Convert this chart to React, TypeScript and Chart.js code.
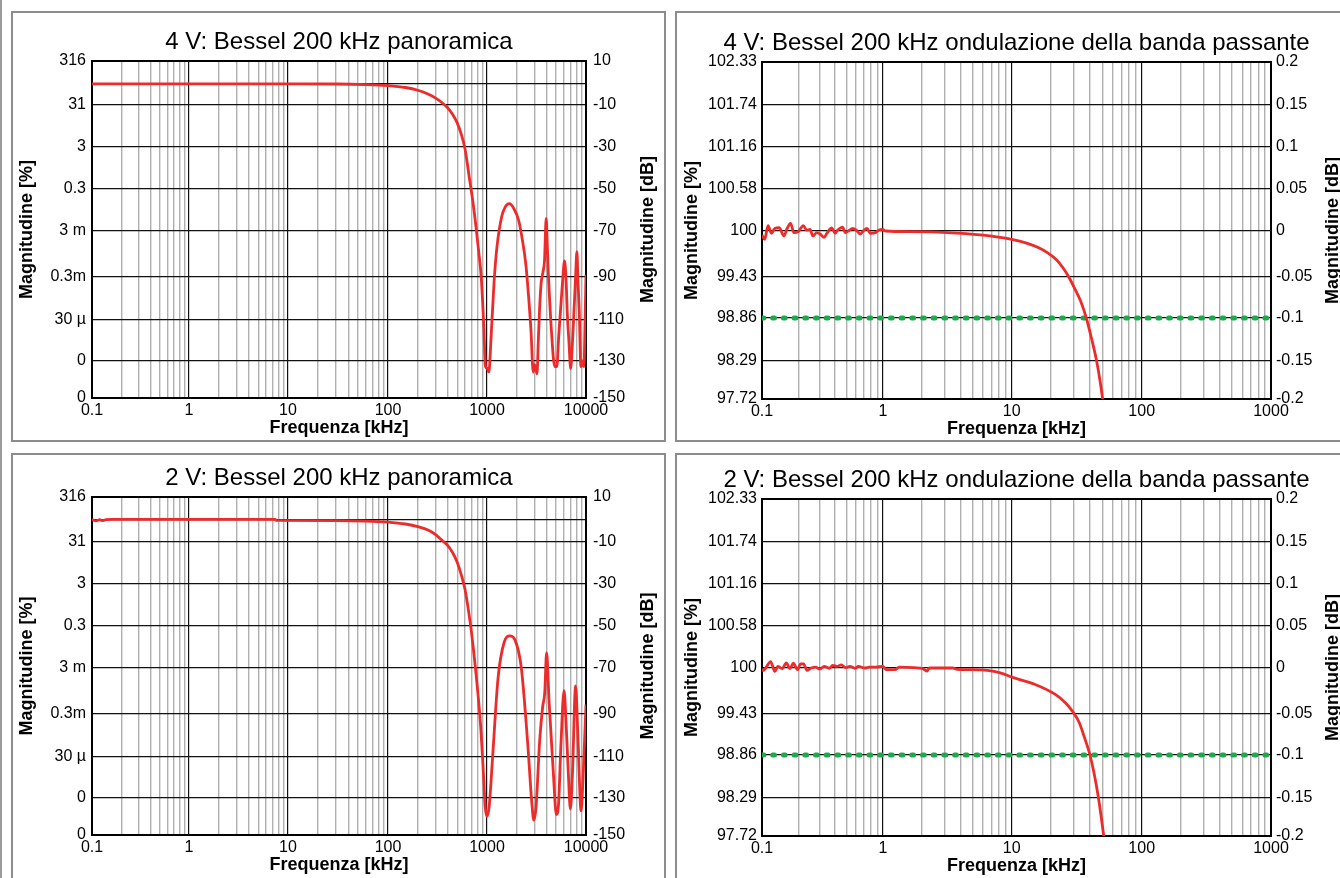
import React, { useEffect, useRef } from "react";
import { Chart, registerables } from "chart.js";

Chart.register(...registerables);

const FONT_FAMILY = '"Liberation Sans", Arial, Helvetica, sans-serif';
const RED = "#ec2b2b";
const GREEN = "#1fa84c";
const MAJOR_GRID = "#111111";
const MINOR_GRID = "#b0b0b0";
const PANEL_BORDER = "#8c8c8c";

// ---------------- data ----------------
// 4 V overview (frequency kHz, magnitude dB)
const panoFreq4V = [0.1, 1, 10, 30, 60, 100, 150, 200, 250, 300, 350, 400, 450, 500, 550, 600, 665, 720, 770, 820, 877, 930, 965, 1005, 1045, 1095, 1180, 1260, 1410, 1530, 1680, 1850, 2090, 2300, 2460, 2620, 2780, 2930, 3010, 3080, 3200, 3300, 3390, 3520, 3670, 3810, 3960, 4080, 4180, 4320, 4470, 4830, 5080, 5300, 5520, 5800, 6070, 6300, 6460, 6750, 7000, 7280, 7560, 7850, 8090, 8300, 8550, 8890, 9250, 9540, 9750, 9920, 10000];
const panoDb4V = [0, 0, 0, -0.05, -0.3, -0.8, -1.7, -3.0, -4.7, -6.6, -8.8, -11.3, -14.5, -18.5, -24, -31, -45, -56, -67, -78, -91, -114, -133, -134, -136, -120, -92, -77, -63, -58.5, -57, -59, -65, -75, -84, -98, -115, -136, -132, -133, -137, -120, -106, -93, -88, -83, -64, -78, -90, -103, -115, -133, -133, -118, -106, -92, -83, -92, -106, -122, -134, -122, -106, -90, -79, -92, -106, -133, -130, -133, -115, -97, -89];

// 2 V overview
const panoFreq2V = [0.1, 0.11, 0.12, 0.13, 0.14, 0.16, 1, 7.4, 7.6, 30, 60, 100, 150, 200, 257, 300, 349, 400, 450, 500, 550, 600, 650, 700, 776, 860, 920, 960, 1000, 1050, 1140, 1290, 1490, 1700, 1920, 2220, 2570, 2830, 2970, 3130, 3400, 3650, 3830, 4000, 4240, 4680, 5020, 5270, 5600, 6000, 6300, 6630, 6950, 7300, 7850, 8320, 8920, 9380, 10000];
const panoDb2V = [0.2, -0.4, 0.1, -0.3, 0.2, 0.3, 0.3, 0.3, -0.2, -0.3, -0.5, -1.0, -1.9, -3.1, -4.8, -6.8, -9.5, -12, -15.5, -20, -26, -33, -43, -54, -73, -95, -118, -135, -140, -135, -110, -75, -58, -55, -57, -70, -103, -132, -142, -135, -103, -87, -81, -63, -85, -118, -139, -134, -103, -80, -95, -118, -136, -118, -78, -103, -137, -118, -86];

// 4 V pass-band ripple
const rippleFreq4V = [0.1, 0.1052, 0.1122, 0.1197, 0.1276, 0.1386, 0.1516, 0.1615, 0.1724, 0.1838, 0.1995, 0.2196, 0.2345, 0.2499, 0.263, 0.2841, 0.3026, 0.3266, 0.3438, 0.378, 0.403, 0.4217, 0.4642, 0.4885, 0.5208, 0.5623, 0.6025, 0.6494, 0.6925, 0.7388, 0.788, 0.8659, 0.9237, 0.9886, 1.05, 1.74, 3.2, 5.7, 10, 13.2, 16, 18.8, 22, 24.8, 27.5, 30.5, 34, 37.5, 41, 45, 48, 50.5, 53];
const rippleDb4V = [-0.0043, -0.009, 0.0065, -0.0025, 0.003, 0.004, -0.0054, 0.003, 0.009, -0.0018, -0.0007, 0.0065, 0.001, 0.0018, -0.0054, -0.0018, -0.0033, -0.0069, -0.0025, 0.0036, -0.0025, 0.001, 0.0047, -0.0018, 0.0004, 0.003, 0.001, -0.0033, 0.0004, 0.003, -0.0025, -0.0018, 0.001, 0.0018, 0, -0.0007, -0.0018, -0.0043, -0.009, -0.0134, -0.018, -0.0235, -0.031, -0.04, -0.05, -0.064, -0.08, -0.1, -0.123, -0.15, -0.178, -0.205, -0.235];

// 2 V pass-band ripple
const rippleFreq2V = [0.1, 0.1025, 0.1085, 0.1178, 0.1278, 0.1354, 0.1466, 0.159, 0.17, 0.1813, 0.1969, 0.2085, 0.2207, 0.2355, 0.2554, 0.2772, 0.3009, 0.3264, 0.3603, 0.3844, 0.4173, 0.4528, 0.4915, 0.5334, 0.5876, 0.6268, 0.7102, 0.7704, 0.8706, 1.0, 1.06, 1.24, 1.34, 1.75, 2.04, 2.21, 2.29, 3.5, 3.78, 4.75, 6.45, 8.15, 10.2, 15, 21.8, 26, 29.7, 33, 36, 40, 43.5, 46.5, 49, 51.5, 54];
const rippleDb2V = [-0.001, -0.0026, 0.0011, 0.0076, -0.0037, 0.0019, -0.0007, 0.0061, -0.0007, 0.0057, -0.0018, 0.005, 0.005, -0.0026, 0, 0.0011, -0.0011, 0.0019, -0.0003, 0.003, 0.0019, 0.0038, 0.0004, 0.0019, -0.0003, 0.0019, 0, 0.0011, 0.0011, 0.0019, -0.0018, -0.0018, 0.0011, 0.0004, -0.0007, -0.0034, 0, 0, -0.0015, -0.0018, -0.0026, -0.0052, -0.0102, -0.0177, -0.029, -0.038, -0.048, -0.06, -0.077, -0.1, -0.125, -0.15, -0.177, -0.205, -0.235];

// -0.1 dB limit line
const limitFreq = [0.1, 1000];
const limitDb = [-0.1, -0.1];

// ticks
const panoXMajors = [0.1, 1, 10, 100, 1000, 10000];
const panoXLabels = ["0.1", "1", "10", "100", "1000", "10000"];
const rippleXMajors = [0.1, 1, 10, 100, 1000];
const rippleXLabels = ["0.1", "1", "10", "100", "1000"];
const minorSteps = [2, 3, 4, 5, 6, 7, 8, 9];

const panoDbTicks = [10, 0, -10, -30, -50, -70, -90, -110, -130, -150];
const panoPctLabels = ["316", "", "31", "3", "0.3", "3 m", "0.3m", "30 µ", "0", "0"];
const panoDbLabels = ["10", "", "-10", "-30", "-50", "-70", "-90", "-110", "-130", "-150"];

const rippleDbTicks = [0.2, 0.15, 0.1, 0.05, 0, -0.05, -0.1, -0.15, -0.2];
const ripplePctLabels = ["102.33", "101.74", "101.16", "100.58", "100", "99.43", "98.86", "98.29", "97.72"];
const rippleDbLabels = ["0.2", "0.15", "0.1", "0.05", "0", "-0.05", "-0.1", "-0.15", "-0.2"];

// axis calibration of the original drawing (fraction of plot span at each major tick)
const panoYFrac = [0, 0.068, 0.1306, 0.2552, 0.3798, 0.5045, 0.641, 0.7685, 0.8902, 1];
const rippleYFrac = [0, 0.1276, 0.2522, 0.3769, 0.5015, 0.638, 0.7596, 0.8872, 1];
const panoXFrac = [0, 0.1964, 0.3968, 0.5992, 0.7996, 1];
const rippleXFrac = [0, 0.2375, 0.4905, 0.746, 1];

const LEFT_TITLE = "Magnitudine [%]";
const RIGHT_TITLE = "Magnitudine [dB]";
const X_TITLE = "Frequenza [kHz]";

// ---------------- layout specs ----------------
type Box = { left: number; top: number; width: number; height: number };
type Margins = { left: number; top: number; right: number; bottom: number };
type PanelSpec = {
  kind: "pano" | "ripple";
  title: string;
  freq: number[];
  db: number[];
  panel: Box;
  canvas: Box;
  margins: Margins;
  leftTitleGap: number;
  rightTitleGap: number;
  leftTickPad: number;
  rightTickPad: number;
  titleGap: number;
};

const specs: PanelSpec[] = [
  {
    kind: "pano",
    title: "4 V: Bessel 200 kHz panoramica",
    freq: panoFreq4V,
    db: panoDb4V,
    panel: { left: 11, top: 11, width: 655, height: 431 },
    canvas: { left: 13, top: 13, width: 651, height: 427 },
    margins: { left: 79, top: 48, right: 78, bottom: 42 },
    leftTitleGap: 65,
    rightTitleGap: 62,
    leftTickPad: 6,
    rightTickPad: 7,
    titleGap: 12,
  },
  {
    kind: "ripple",
    title: "4 V: Bessel 200 kHz ondulazione della banda passante",
    freq: rippleFreq4V,
    db: rippleDb4V,
    panel: { left: 675, top: 11, width: 720, height: 431 },
    canvas: { left: 677, top: 13, width: 700, height: 427 },
    margins: { left: 85, top: 49, right: 106, bottom: 41 },
    leftTitleGap: 70,
    rightTitleGap: 62,
    leftTickPad: 5,
    rightTickPad: 5,
    titleGap: 12,
  },
  {
    kind: "pano",
    title: "2 V: Bessel 200 kHz panoramica",
    freq: panoFreq2V,
    db: panoDb2V,
    panel: { left: 11, top: 453, width: 655, height: 500 },
    canvas: { left: 13, top: 455, width: 651, height: 423 },
    margins: { left: 79, top: 42, right: 78, bottom: 43 },
    leftTitleGap: 65,
    rightTitleGap: 62,
    leftTickPad: 6,
    rightTickPad: 7,
    titleGap: 12,
  },
  {
    kind: "ripple",
    title: "2 V: Bessel 200 kHz ondulazione della banda passante",
    freq: rippleFreq2V,
    db: rippleDb2V,
    panel: { left: 675, top: 453, width: 720, height: 500 },
    canvas: { left: 677, top: 455, width: 700, height: 423 },
    margins: { left: 85, top: 44, right: 106, bottom: 42 },
    leftTitleGap: 70,
    rightTitleGap: 62,
    leftTickPad: 5,
    rightTickPad: 5,
    titleGap: 12,
  },
];

// piecewise-linear interpolation through knots (xs monotone, ascending or descending)
function piecewise(v: number, xs: number[], ys: number[]) {
  const n = xs.length;
  const asc = xs[n - 1] > xs[0];
  let i = 0;
  for (i = 0; i < n - 2; i++) {
    const b = xs[i + 1];
    if (asc ? v <= b : v >= b) break;
  }
  const a = xs[i];
  const b = xs[i + 1];
  const t = (v - a) / (b - a);
  return ys[i] + t * (ys[i + 1] - ys[i]);
}

function decorPlugin(s: PanelSpec) {
  return {
    id: "decor",
    beforeDatasetsDraw(chart: any) {
      const { ctx, chartArea: a } = chart;
      ctx.save();
      ctx.strokeStyle = "#000";
      ctx.lineWidth = 2;
      ctx.strokeRect(a.left, a.top, a.right - a.left, a.bottom - a.top);
      ctx.restore();
    },
    afterDraw(chart: any) {
      const { ctx, chartArea: a } = chart;
      const cx = (a.left + a.right) / 2;
      const cy = (a.top + a.bottom) / 2;
      ctx.save();
      ctx.fillStyle = "#000";
      ctx.textAlign = "center";
      ctx.textBaseline = "alphabetic";
      ctx.font = `24px ${FONT_FAMILY}`;
      ctx.fillText(s.title, cx, a.top - s.titleGap);

      ctx.font = `bold 18px ${FONT_FAMILY}`;
      ctx.textBaseline = "middle";
      ctx.fillText(X_TITLE, cx, a.bottom + 30);

      ctx.save();
      ctx.translate(a.left - s.leftTitleGap, cy);
      ctx.rotate(-Math.PI / 2);
      ctx.fillText(LEFT_TITLE, 0, 0);
      ctx.restore();

      ctx.save();
      ctx.translate(a.right + s.rightTitleGap, cy);
      ctx.rotate(-Math.PI / 2);
      ctx.fillText(RIGHT_TITLE, 0, 0);
      ctx.restore();
      ctx.restore();
    },
  };
}

function buildConfig(s: PanelSpec): any {
  const pano = s.kind === "pano";
  const xMajors = pano ? panoXMajors : rippleXMajors;
  const xLabels = pano ? panoXLabels : rippleXLabels;
  const xFrac = pano ? panoXFrac : rippleXFrac;
  const yTicks = pano ? panoDbTicks : rippleDbTicks;
  const yFrac = pano ? panoYFrac : rippleYFrac;
  const leftLabels = pano ? panoPctLabels : ripplePctLabels;
  const rightLabels = pano ? panoDbLabels : rippleDbLabels;
  const yMin = Math.min(...yTicks);
  const yMax = Math.max(...yTicks);
  const tickFont = { family: FONT_FAMILY, size: 16 };
  const xLogMajors = xMajors.map((m) => Math.log10(m));

  const datasets: any[] = [
    {
      data: s.freq.map((f, i) => ({ x: f, y: s.db[i] })),
      borderColor: RED,
      borderWidth: 2.8,
      pointRadius: 0,
      pointHoverRadius: 0,
      cubicInterpolationMode: "monotone",
      fill: false,
      xAxisID: "x",
      yAxisID: "y",
    },
  ];
  if (!pano) {
    datasets.push({
      data: limitFreq.map((f, i) => ({ x: f, y: limitDb[i] })),
      borderColor: GREEN,
      borderWidth: 5,
      borderDash: [1.8, 8.9],
      borderCapStyle: "round",
      pointRadius: 0,
      pointHoverRadius: 0,
      fill: false,
      xAxisID: "x",
      yAxisID: "y",
    });
  }

  const yLabel = (labels: string[]) => (v: number) => {
    const i = yTicks.indexOf(v);
    return i >= 0 ? labels[i] : "";
  };
  const setYTicks = (axis: any) => {
    axis.ticks = yTicks.map((v) => ({ value: v }));
    axis.getPixelForValue = (v: number) => axis.top + piecewise(v, yTicks, yFrac) * (axis.bottom - axis.top);
  };

  return {
    type: "line",
    data: { datasets },
    options: {
      responsive: false,
      maintainAspectRatio: false,
      animation: false,
      devicePixelRatio: 1,
      events: [],
      layout: { padding: { top: s.margins.top, left: 0, right: 0, bottom: 0 } },
      plugins: {
        legend: { display: false },
        title: { display: false },
        tooltip: { enabled: false },
      },
      scales: {
        x: {
          type: "logarithmic",
          position: "bottom",
          min: xMajors[0],
          max: xMajors[xMajors.length - 1],
          afterBuildTicks: (axis: any) => {
            const t: any[] = [];
            xMajors.forEach((m, i) => {
              t.push({ value: m, isMajor: true });
              if (i < xMajors.length - 1) minorSteps.forEach((k) => t.push({ value: m * k, isMajor: false }));
            });
            axis.ticks = t;
            axis.getPixelForValue = (v: number) =>
              axis.left + piecewise(Math.log10(v), xLogMajors, xFrac) * (axis.right - axis.left);
          },
          afterFit: (axis: any) => {
            axis.height = s.margins.bottom;
          },
          ticks: {
            autoSkip: false,
            maxRotation: 0,
            minRotation: 0,
            padding: 3,
            font: tickFont,
            color: "#000",
            callback: (_v: number, i: number, ticks: any[]) =>
              ticks[i] && ticks[i].isMajor ? xLabels[xMajors.indexOf(ticks[i].value)] : "",
          },
          grid: {
            drawTicks: false,
            z: -1,
            lineWidth: (c: any) => (c.tick && c.tick.isMajor ? 1.2 : 1.4),
            color: (c: any) => (c.tick && c.tick.isMajor ? MAJOR_GRID : MINOR_GRID),
          },
          border: { display: false },
        },
        y: {
          type: "linear",
          position: "left",
          min: yMin,
          max: yMax,
          afterBuildTicks: setYTicks,
          afterFit: (axis: any) => {
            axis.width = s.margins.left;
          },
          ticks: {
            autoSkip: false,
            padding: s.leftTickPad,
            font: tickFont,
            color: "#000",
            callback: yLabel(leftLabels),
          },
          grid: { drawTicks: false, color: MAJOR_GRID, lineWidth: 1.2 },
          border: { display: false },
        },
        y2: {
          type: "linear",
          position: "right",
          min: yMin,
          max: yMax,
          afterBuildTicks: setYTicks,
          afterFit: (axis: any) => {
            axis.width = s.margins.right;
          },
          ticks: {
            autoSkip: false,
            padding: s.rightTickPad,
            font: tickFont,
            color: "#000",
            callback: yLabel(rightLabels),
          },
          grid: { display: false, drawTicks: false, drawOnChartArea: false },
          border: { display: false },
        },
      },
    },
    plugins: [decorPlugin(s)],
  };
}

function FilterChart({ spec }: { spec: PanelSpec }) {
  const ref = useRef<HTMLCanvasElement | null>(null);
  useEffect(() => {
    if (!ref.current) return;
    const chart = new Chart(ref.current, buildConfig(spec));
    return () => chart.destroy();
  }, [spec]);
  return (
    <canvas
      ref={ref}
      width={spec.canvas.width}
      height={spec.canvas.height}
      style={{
        position: "absolute",
        left: spec.canvas.left,
        top: spec.canvas.top,
        width: spec.canvas.width,
        height: spec.canvas.height,
      }}
    />
  );
}

export default function App() {
  return (
    <div
      style={{
        position: "absolute",
        left: 0,
        top: 0,
        width: 1340,
        height: 878,
        overflow: "hidden",
        background: "#fff",
      }}
    >
      <div style={{ position: "absolute", left: 0, top: 0, width: 2, height: 878, background: "#9a9a9a" }} />
      {specs.map((s, i) => (
        <React.Fragment key={i}>
          <div
            style={{
              position: "absolute",
              left: s.panel.left,
              top: s.panel.top,
              width: s.panel.width,
              height: s.panel.height,
              border: `2px solid ${PANEL_BORDER}`,
              boxSizing: "border-box",
              background: "#fff",
            }}
          />
          <FilterChart spec={s} />
        </React.Fragment>
      ))}
    </div>
  );
}
